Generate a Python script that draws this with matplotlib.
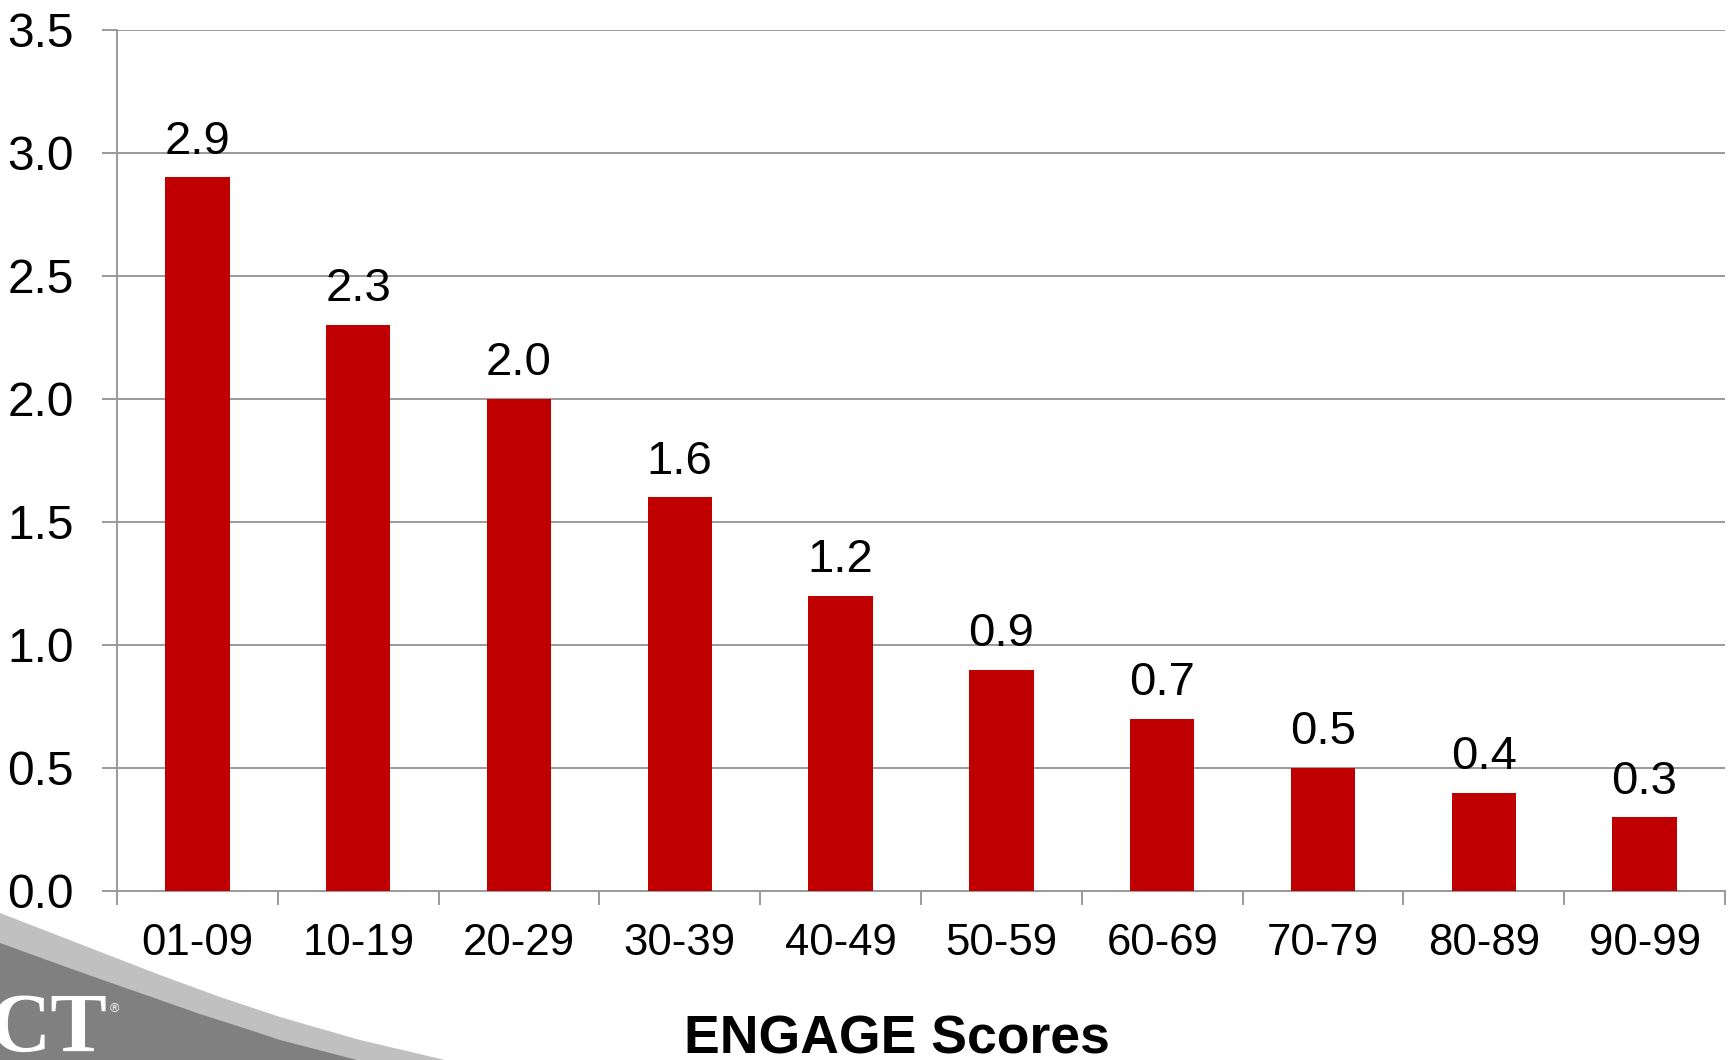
import matplotlib
matplotlib.use("Agg")
import matplotlib.pyplot as plt
from matplotlib.patches import Polygon
import numpy as np

# Data
score_bands = ["01-09", "10-19", "20-29", "30-39", "40-49",
               "50-59", "60-69", "70-79", "80-89", "90-99"]
values = [2.9, 2.3, 2.0, 1.6, 1.2, 0.9, 0.7, 0.5, 0.4, 0.3]
y_ticks = [0.0, 0.5, 1.0, 1.5, 2.0, 2.5, 3.0, 3.5]
x_title = "ENGAGE Scores"

W, H = 1734, 1060
DPI = 100
plt.rcParams["font.family"] = ["Liberation Sans", "DejaVu Sans"]

fig = plt.figure(figsize=(W / DPI, H / DPI), dpi=DPI, facecolor="white")
ax = fig.add_axes([117 / W, 1 - 891 / H, (1725 - 117) / W, (891 - 29.7) / H])

grid_col = "#9a9a9a"
bar_col = "#c00000"

x = np.arange(len(score_bands))
bars = ax.bar(x, values, width=0.4, color=bar_col, zorder=3)

for xi, v in zip(x, values):
    ax.annotate(f"{v:.1f}", (xi, v), xytext=(0, 17), textcoords="offset points",
                ha="center", va="baseline", fontsize=34, color="black", zorder=4)

ax.set_xlim(-0.5, len(score_bands) - 0.5)
ax.set_ylim(0, 3.5)

# y axis
ax.set_yticks(y_ticks)
ax.set_yticklabels([f"{t:.1f}" for t in y_ticks])
ax.yaxis.grid(True, color=grid_col, linewidth=1.4, zorder=0)
ax.tick_params(axis="y", which="major", length=11, width=1.4, color=grid_col,
               direction="out", pad=20, labelsize=34.5)

# x axis: boundary ticks without labels, labels centred on categories
ax.set_xticks(np.arange(-0.5, len(score_bands), 1.0))
ax.set_xticklabels([])
ax.set_xticks(x, minor=True)
ax.set_xticklabels(score_bands, minor=True)
ax.tick_params(axis="x", which="major", length=10, width=1.4, color=grid_col,
               direction="out")
ax.tick_params(axis="x", which="minor", length=0, pad=23, labelsize=31.5)

for side in ("top", "right"):
    ax.spines[side].set_visible(False)
for side in ("left", "bottom"):
    ax.spines[side].set_color(grid_col)
    ax.spines[side].set_linewidth(1.4)
ax.set_axisbelow(True)

fig.text(897 / W, 7 / H, x_title, ha="center", va="baseline",
         fontsize=38.5, fontweight="bold", color="black")

# Corner logo swoosh
def px(points):
    return [(px_x / W, 1 - px_y / H) for px_x, px_y in points]

light_band = [(0, 913), (80, 944), (160, 975), (220, 997), (280, 1017),
              (360, 1040), (445, 1060), (0, 1060)]
dark_band = [(0, 943), (80, 972), (160, 1000), (200, 1014), (250, 1030),
             (280, 1040), (357, 1060), (0, 1060)]
fig.add_artist(Polygon(px(light_band), closed=True, facecolor="#c0c0c0",
                       edgecolor="none", transform=fig.transFigure, zorder=1))
fig.add_artist(Polygon(px(dark_band), closed=True, facecolor="#808080",
                       edgecolor="none", transform=fig.transFigure, zorder=2))
fig.text(108 / W, 1 - 1052 / H, "CT", ha="right", va="baseline",
         fontsize=61, fontweight="bold", color="white",
         family=["Liberation Serif", "DejaVu Serif"], zorder=3)
fig.text(110 / W, 1 - 1012 / H, "®", ha="left", va="baseline",
         fontsize=9, color="white", zorder=3)

fig.savefig("out.png", dpi=DPI, facecolor="white")
